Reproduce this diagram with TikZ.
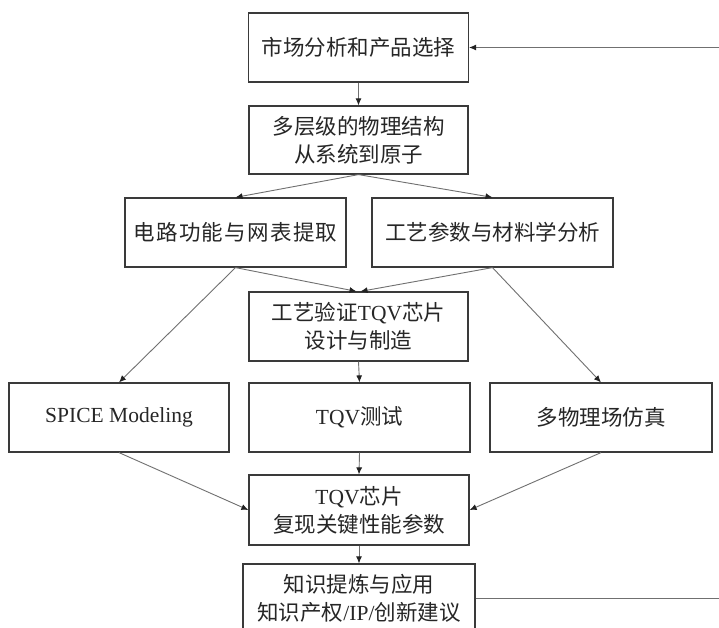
\documentclass[tikz,border=0pt]{standalone}
\usepackage{fontspec}
\setmainfont{Liberation Serif}
\newfontfamily\cjk{Noto Sans CJK SC}
\usetikzlibrary{arrows.meta}
\definecolor{boxc}{HTML}{3A3A3A}
\definecolor{linec}{HTML}{707070}
\definecolor{tipc}{HTML}{222222}
\tikzset{
  fbox/.style={draw=boxc, line width=1.2pt, align=center, inner sep=0pt,
    text=black!85, font=\fontsize{21.5}{28}\selectfont},
  conn/.style={draw=linec, line width=0.9pt},
  arr/.style={conn, -{Latex[length=7pt,width=6pt,color=tipc]}},
}
\begin{document}
\begin{tikzpicture}[x=1pt,y=-1pt]
\useasboundingbox (0,0) rectangle (719,628);
\clip (0,0) rectangle (719,628);
\fill[white] (0,0) rectangle (719,628);

\node[fbox, minimum width=220, minimum height=69] (b1) at (358.5,47.5) {\cjk 市场分析和产品选择};
\node[fbox, minimum width=219, minimum height=68] (b2) at (358.5,140) {\cjk 多层级的物理结构\\\cjk 从系统到原子};
\node[fbox, minimum width=221, minimum height=69] (b3a) at (235.5,232.5) {\cjk\addfontfeature{LetterSpace=6}电路功能与网表提取};
\node[fbox, minimum width=241, minimum height=69] (b3b) at (492.5,232.5) {\cjk 工艺参数与材料学分析};
\node[fbox, minimum width=219, minimum height=69] (b4) at (358.5,326.5) {{\cjk 工艺验证}TQV{\cjk 芯片}\\\cjk 设计与制造};
\node[fbox, minimum width=220, minimum height=69] (b5a) at (119,417.5) {SPICE Modeling};
\node[fbox, minimum width=221, minimum height=69] (b5b) at (359.5,417.5) {TQV{\cjk 测试}};
\node[fbox, minimum width=222, minimum height=69] (b5c) at (601,417.5) {\cjk 多物理场仿真};
\node[fbox, minimum width=220, minimum height=70] (b6) at (359,510) {TQV{\cjk 芯片}\\\cjk 复现关键性能参数};
\node[fbox, minimum width=232, minimum height=68] (b7) at (359,598) {\cjk 知识提炼与应用\\{\cjk 知识产权}/IP/{\cjk 创新建议}};

\coordinate (in) at (719,47.5);
\coordinate (out) at (719,598);

\draw[arr] (in) -- (b1.east);
\draw[arr] (b1.south) -- (b2.north);
\draw[arr] (b2.south) -- (b3a.north);
\draw[arr] (b2.south) -- (b3b.north);
\draw[arr] (b3a.south) -- ([xshift=-2]b4.north);
\draw[arr] (b3b.south) -- ([xshift=2]b4.north);
\draw[arr] (b3a.south) -- (b5a.north);
\draw[arr] (b3b.south) -- (b5c.north);
\draw[arr] (b4.south) -- (b5b.north);
\draw[arr] (b5a.south) -- (b6.west);
\draw[arr] (b5c.south) -- (b6.east);
\draw[arr] (b5b.south) -- (b6.north);
\draw[arr] (b6.south) -- (b7.north);
\draw[conn] (b7.east) -- (out);
\end{tikzpicture}
\end{document}
